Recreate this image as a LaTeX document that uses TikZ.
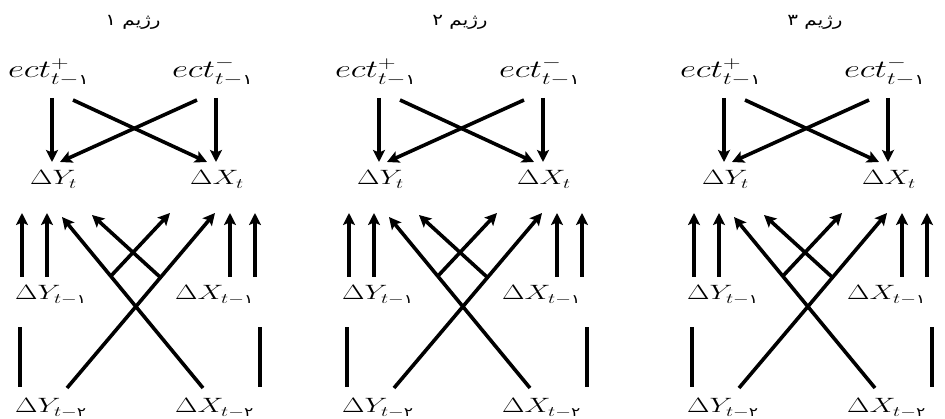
\documentclass[tikz,border=0pt]{standalone}
\usepackage{fontspec}
\usepackage{amsmath}
\usepackage{graphicx}
\usetikzlibrary{arrows.meta}
\newfontfamily\pfont[Script=Arabic]{DejaVu Sans}
\TeXXeTstate=1
\newcommand\pdig[1]{\text{\pfont\scalebox{0.8}{#1}}}
\newcommand\sx[1]{\scalebox{1.4}[1]{#1}}
\tikzset{
  arr/.style={line width=3.6pt,-{Stealth[length=12pt 0 0,width=12pt 0 0,inset=2.5pt 0 0]}},
  ln/.style={line width=3.6pt},
  big/.style={inner sep=0pt,anchor=base west,font=\fontsize{25}{30}\selectfont},
  lab/.style={inner sep=0pt,anchor=base west,font=\fontsize{22}{26}\selectfont},
  ttl/.style={inner sep=0pt,font=\pfont\fontsize{16}{19}\selectfont},
}
\newcommand\panel[4]{%
\begin{scope}[xshift=#1]
  \node[ttl] (t#3) at (#4,22) {\scalebox{1.25}[1]{\beginR رژیم #2\endR}};
  \node[big] (ep#3) at (8,78) {\sx{$ect^{+}_{t-\pdig{۱}}$}};
  \node[big] (em#3) at (172,78) {\sx{$ect^{-}_{t-\pdig{۱}}$}};
  \node[lab] (y0#3) at (30,185) {\sx{$\Delta Y_t$}};
  \node[lab] (x0#3) at (190,185) {\sx{$\Delta X_t$}};
  \node[lab] (y1#3) at (15,300) {\sx{$\Delta Y_{t-\pdig{۱}}$}};
  \node[lab] (x1#3) at (175,300) {\sx{$\Delta X_{t-\pdig{۱}}$}};
  \node[lab] (y2#3) at (15,413) {\sx{$\Delta Y_{t-\pdig{۲}}$}};
  \node[lab] (x2#3) at (175,413) {\sx{$\Delta X_{t-\pdig{۲}}$}};
  % top connectors
  \coordinate (pa#3) at (52,98);  \coordinate (qa#3) at (52,162);
  \coordinate (pb#3) at (216,98); \coordinate (qb#3) at (216,162);
  \coordinate (pc#3) at (73,100); \coordinate (qc#3) at (207,162);
  \coordinate (pd#3) at (197,100);\coordinate (qd#3) at (60,162);
  \draw[arr] (pa#3) -- (qa#3);
  \draw[arr] (pb#3) -- (qb#3);
  \draw[arr] (pc#3) -- (qc#3);
  \draw[arr] (pd#3) -- (qd#3);
  % lower connectors
  \coordinate (ra#3) at (22,277);  \coordinate (sa#3) at (22,213);
  \coordinate (rb#3) at (47,277);  \coordinate (sb#3) at (47,213);
  \coordinate (rc#3) at (230,277); \coordinate (sc#3) at (230,213);
  \coordinate (rd#3) at (255,277); \coordinate (sd#3) at (255,213);
  \coordinate (re#3) at (160,277); \coordinate (se#3) at (92,215);
  \coordinate (rf#3) at (110,277); \coordinate (sf#3) at (170,213);
  \coordinate (rg#3) at (203,388); \coordinate (sg#3) at (62,217);
  \coordinate (rh#3) at (67,388);  \coordinate (sh#3) at (215,213);
  \draw[arr] (ra#3) -- (sa#3);
  \draw[arr] (rb#3) -- (sb#3);
  \draw[arr] (rc#3) -- (sc#3);
  \draw[arr] (rd#3) -- (sd#3);
  \draw[arr] (re#3) -- (se#3);
  \draw[arr] (rf#3) -- (sf#3);
  \draw[arr] (rg#3) -- (sg#3);
  \draw[arr] (rh#3) -- (sh#3);
  \coordinate (va#3) at (20,387);  \coordinate (wa#3) at (20,327);
  \coordinate (vb#3) at (260,387); \coordinate (wb#3) at (260,327);
  \draw[ln] (va#3) -- (wa#3);
  \draw[ln] (vb#3) -- (wb#3);
\end{scope}}
\begin{document}
\begin{tikzpicture}[x=1pt,y=-1pt]
  \useasboundingbox (0,0) rectangle (945,419);
  \fill[white] (0,0) rectangle (945,419);
  \panel{0pt}{۱}{a}{133}
  \panel{327pt}{۲}{b}{133}
  \panel{672pt}{۳}{c}{143}
\end{tikzpicture}
\end{document}
